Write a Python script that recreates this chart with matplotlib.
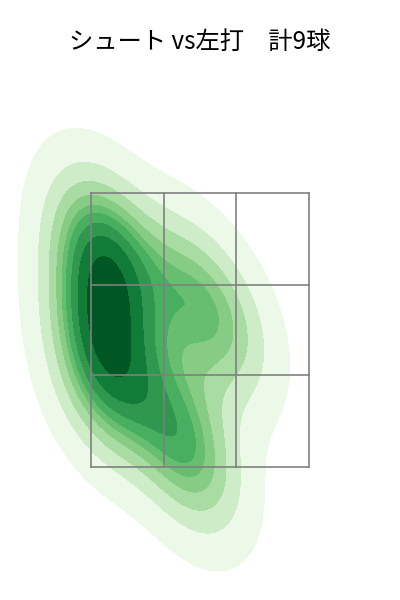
import matplotlib
matplotlib.use('Agg')
import numpy as np
import matplotlib.pyplot as plt
import seaborn as sns

plt.rcParams['font.family'] = ['Noto Sans CJK JP', 'DejaVu Sans']

# pitch locations (ft): horizontal, height
px = [-0.76, -0.67, -0.78, -0.70, -0.75, -0.19, -0.04, -0.11, 0.19]
pz = [3.19, 2.97, 2.65, 2.32, 2.03, 1.84, 1.48, 2.83, 2.50]

zone_x = [-0.83, -0.277, 0.277, 0.83]
zone_z = [1.5, 2.17, 2.83, 3.5]

fig = plt.figure(figsize=(4, 6), dpi=100)
ax = fig.add_axes([0, 0, 1, 0.9])
sns.kdeplot(x=px, y=pz, fill=True, cmap='Greens', bw_adjust=1.1, ax=ax)

for xv in zone_x:
    ax.plot([xv, xv], [zone_z[0], zone_z[-1]], color='gray', lw=1.2)
for zv in zone_z:
    ax.plot([zone_x[0], zone_x[-1]], [zv, zv], color='gray', lw=1.2)

ax.set_xlim(-1.523, 1.523)
ax.set_ylim(0.529, 4.471)
ax.axis('off')

fig.text(0.5, 1 - 42 / 600, 'シュート vs左打　計9球', ha='center', va='center', fontsize=17.5)

plt.savefig('out.png')
